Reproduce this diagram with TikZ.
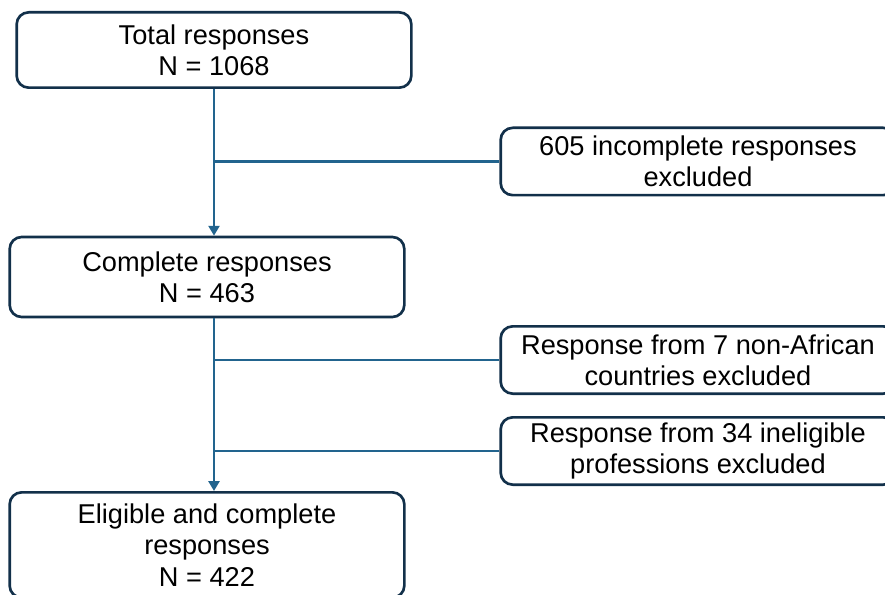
\documentclass[tikz,border=0pt]{standalone}
\usepackage{fontspec}
\setmainfont{Liberation Sans}
\usetikzlibrary{arrows.meta}
\definecolor{boxline}{HTML}{12304A}
\definecolor{flowline}{HTML}{22648E}

\begin{document}
\begin{tikzpicture}[x=0.75pt,y=-0.75pt,
  >={Triangle[length=2.6mm,width=2.9mm]},
  stage/.style={rectangle,draw=boxline,line width=2pt,rounded corners=9pt,align=center,
    minimum width=296pt,inner sep=0pt,font=\fontsize{20.4}{23.5}\selectfont},
  flow/.style={draw=flowline,line width=1.7pt}]
  \clip (0,0) rectangle (885,595);
  \node[stage,minimum height=56.5pt] (total) at (214,50) {Total responses\\N = 1068};
  \node[stage,minimum height=60pt] (complete) at (207,277) {Complete responses\\N = 463};
  \node[stage,minimum height=79pt] (eligible) at (207,545) {Eligible and complete\\responses\\N = 422};
  \node[stage,minimum height=50.5pt] (ex1) at (698,161.5) {605 incomplete responses\\excluded};
  \node[stage,minimum height=50.5pt] (ex2) at (698,360) {Response from 7 non-African\\countries excluded};
  \node[stage,minimum height=50.5pt] (ex3) at (698,451) {Response from 34 ineligible\\professions excluded};
  \coordinate (b1) at (total.south |- ex1.west);
  \coordinate (c0) at (total.south |- complete.south);
  \coordinate (b2) at (total.south |- ex2.west);
  \coordinate (b3) at (total.south |- ex3.west);
  \draw[flow,->] (total.south) -- (total.south |- complete.north);
  \draw[flow] (b1) -- (ex1.west);
  \draw[flow,->] (c0) -- (c0 |- eligible.north);
  \draw[flow] (b2) -- (ex2.west);
  \draw[flow] (b3) -- (ex3.west);
\end{tikzpicture}
\end{document}
